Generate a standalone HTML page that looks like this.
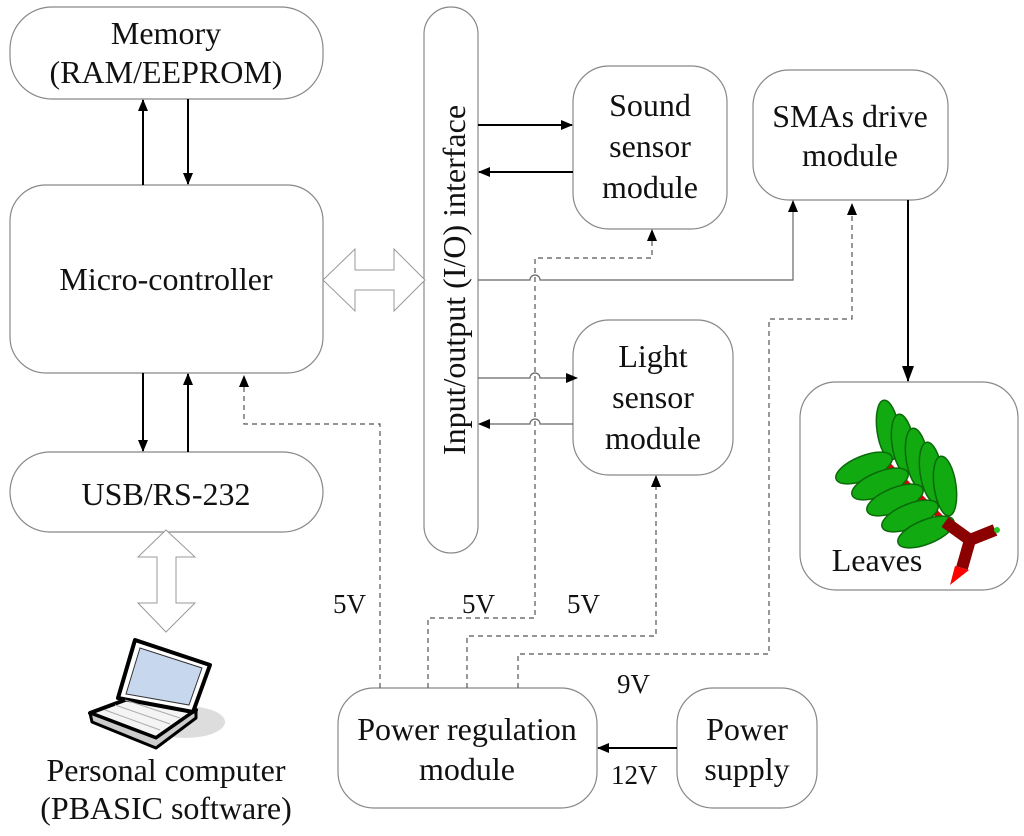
<!DOCTYPE html>
<html><head><meta charset="utf-8"><style>
html,body{margin:0;padding:0;background:#fff;}
svg{display:block;}
text{font-family:"Liberation Serif",serif;fill:#111;}
</style></head><body>
<svg width="1024" height="836" viewBox="0 0 1024 836" xmlns="http://www.w3.org/2000/svg">
<defs>
<marker id="a" markerWidth="12" markerHeight="10" refX="11" refY="5" orient="auto" markerUnits="userSpaceOnUse"><path d="M0,0 L12,5 L0,10 Z" fill="#000"/></marker>
<marker id="b" markerWidth="16" markerHeight="12" refX="15" refY="6" orient="auto" markerUnits="userSpaceOnUse"><path d="M0,0 L16,6 L0,12 Z" fill="#000"/></marker>
</defs>
<g fill="#fff" stroke="#888" stroke-width="1.2">
<rect x="10" y="7" width="313" height="92" rx="42"/>
<rect x="10" y="185" width="313" height="188" rx="36"/>
<rect x="10" y="452" width="313" height="80" rx="40"/>
<rect x="424" y="7" width="54" height="546" rx="27"/>
<rect x="573" y="66" width="154" height="163" rx="36"/>
<rect x="753" y="70" width="195" height="130" rx="36"/>
<rect x="573" y="320" width="160" height="155" rx="36"/>
<rect x="800" y="382" width="218" height="208" rx="36"/>
<rect x="338" y="688" width="259" height="120" rx="36"/>
<rect x="677" y="688" width="140" height="120" rx="36"/>
</g>
<g font-size="32" text-anchor="middle">
<text x="166" y="44">Memory</text>
<text x="166" y="83">(RAM/EEPROM)</text>
<text x="166" y="290">Micro-controller</text>
<text x="166" y="505">USB/RS-232</text>
<text x="650" y="116">Sound</text>
<text x="650" y="157">sensor</text>
<text x="650" y="198">module</text>
<text x="850" y="127">SMAs drive</text>
<text x="850" y="166">module</text>
<text x="653" y="367">Light</text>
<text x="653" y="408">sensor</text>
<text x="653" y="449">module</text>
<text x="467" y="740">Power regulation</text>
<text x="467" y="780">module</text>
<text x="747" y="740">Power</text>
<text x="747" y="780">supply</text>
<text x="877" y="571">Leaves</text>
<text x="166" y="781">Personal computer</text>
<text x="166" y="819">(PBASIC software)</text>
<text transform="translate(465,280) rotate(-90)">Input/output (I/O) interface</text>
</g>
<g font-size="27">
<text x="333" y="613">5V</text>
<text x="462" y="613">5V</text>
<text x="567" y="613">5V</text>
<text x="617" y="693">9V</text>
<text x="611" y="784">12V</text>
</g>
<g stroke="#000" stroke-width="2" fill="none">
<line x1="143" y1="185" x2="143" y2="100" marker-end="url(#a)"/>
<line x1="188" y1="99" x2="188" y2="184" marker-end="url(#a)"/>
<line x1="143" y1="373" x2="143" y2="451" marker-end="url(#a)"/>
<line x1="188" y1="452" x2="188" y2="374" marker-end="url(#a)"/>
<line x1="478" y1="125" x2="572" y2="125" marker-end="url(#a)"/>
<line x1="573" y1="172" x2="479" y2="172" marker-end="url(#a)"/>
<line x1="908" y1="200" x2="908" y2="381" marker-end="url(#b)"/>
<line x1="677" y1="748" x2="598" y2="748" marker-end="url(#a)"/>
</g>
<g stroke="#666" stroke-width="1.2" fill="none">
<path d="M478,280 H530 a5,5 0 0 1 10,0 H793 V201" marker-end="url(#a)"/>
<path d="M478,378 H530 a5,5 0 0 1 10,0 H577" marker-end="url(#a)"/>
<path d="M573,424 H540 a5,5 0 0 0 -10,0 H479" marker-end="url(#a)"/>
</g>
<g stroke="#555" stroke-width="1.2" fill="none" stroke-dasharray="5,4">
<path d="M380,688 V424 H244 V376" marker-end="url(#a)"/>
<path d="M428,688 V618 H535 V258 H652 V230" marker-end="url(#a)"/>
<path d="M467,688 V636 H656 V476" marker-end="url(#a)"/>
<path d="M518,688 V654 H769 V319 H852 V204" marker-end="url(#a)"/>
</g>
<g fill="#fff" stroke="#999" stroke-width="1">
<path d="M323,280 L355,249 V270 H394 V249 L425,280 L394,311 V290 H355 V311 Z"/>
<path d="M166,530 L195,557 H176 V603 H195 L166,632 L138,603 H157 V557 H138 Z"/>
</g>
<!-- laptop -->
<g>
<ellipse cx="185" cy="722" rx="40" ry="16" fill="#ddd"/>
<path d="M90,713 L152,690 L196,710 L156,738 Z" fill="#f4f4f4" stroke="#000" stroke-width="4" stroke-linejoin="round"/>
<path d="M90,713 L92,722 L156,748 L196,718 L196,710 L156,738 Z" fill="#ccc" stroke="#000" stroke-width="3" stroke-linejoin="round"/>
<path d="M118,698 L135,640 L210,665 L193,712 Z" fill="#fff" stroke="#000" stroke-width="4" stroke-linejoin="round"/>
<path d="M126,694 L140,648 L202,668 L189,705 Z" fill="#c7d7ee" stroke="#333" stroke-width="1"/>
<g stroke="#aaa" stroke-width="1"><line x1="105" y1="710" x2="160" y2="730"/><line x1="115" y1="705" x2="170" y2="724"/><line x1="125" y1="700" x2="180" y2="718"/></g>
</g>
<!-- leaves -->
<g>
<path d="M883,460 L945,522" stroke="#d00" stroke-width="6"/>
<g fill="#11aa11" stroke="#0a6a0a" stroke-width="1.5">
<ellipse cx="888" cy="430" rx="11" ry="30" transform="rotate(-8 888 430)"/>
<ellipse cx="903" cy="444" rx="11" ry="30" transform="rotate(-8 903 444)"/>
<ellipse cx="917" cy="458" rx="11" ry="30" transform="rotate(-8 917 458)"/>
<ellipse cx="931" cy="472" rx="11" ry="30" transform="rotate(-8 931 472)"/>
<ellipse cx="945" cy="486" rx="11" ry="30" transform="rotate(-8 945 486)"/>
<ellipse cx="864" cy="468" rx="30" ry="12" transform="rotate(-22 864 468)"/>
<ellipse cx="880" cy="484" rx="30" ry="12" transform="rotate(-22 880 484)"/>
<ellipse cx="895" cy="500" rx="30" ry="12" transform="rotate(-22 895 500)"/>
<ellipse cx="910" cy="516" rx="30" ry="12" transform="rotate(-22 910 516)"/>
<ellipse cx="926" cy="532" rx="30" ry="12" transform="rotate(-22 926 532)"/>
</g>
<path d="M945,522 L970,540 L995,530 M970,540 L962,568" stroke="#8b0000" stroke-width="12" fill="none"/>
<path d="M955,566 L969,570 L950,585 Z" fill="#f00"/>
<circle cx="997" cy="530" r="3" fill="#2c2"/>
</g>
</svg>
</body></html>
